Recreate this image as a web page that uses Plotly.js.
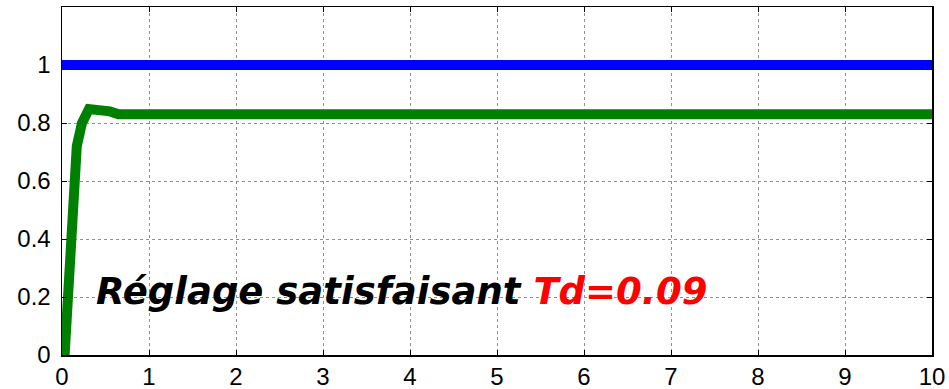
<!DOCTYPE html>
<html><head><meta charset="utf-8">
<script src="https://cdn.plot.ly/plotly-3.0.1.min.js"></script>
<style>html,body{margin:0;padding:0;background:#fff}#g{width:949px;height:389px}</style>
</head><body><div id="g"></div>
<script>
const tRef = [0, 10];
const yRef = [1, 1];
const tOut = [0, 0.03, 0.17, 0.23, 0.31, 0.40, 0.48, 0.55, 0.65, 1.0, 10];
const yOut = [0, 0.0, 0.72, 0.80, 0.848, 0.848, 0.840, 0.840, 0.830, 0.830, 0.830];
const xTicks = [0,1,2,3,4,5,6,7,8,9,10];
const yTicks = [0,0.2,0.4,0.6,0.8,1];
const yTickText = ['0','0.2','0.4','0.6','0.8','1'];
const labelBlack = 'Réglage satisfaisant';
const labelRed = 'Td=0.09';

const axisCommon = {
  showline: true, linecolor: '#000', linewidth: 1.5, mirror: 'ticks',
  ticks: 'inside', ticklen: 5, tickcolor: '#000', tickwidth: 1,
  showgrid: true, gridcolor: '#909090', gridwidth: 1, griddash: 'dot',
  zeroline: false,
  tickfont: {family: 'Liberation Sans', size: 24, color: '#000'}
};

const data = [
  {x: tRef, y: yRef, mode: 'lines', line: {color: '#0000ff', width: 10}, showlegend: false, hoverinfo: 'skip'},
  {x: tOut, y: yOut, mode: 'lines', line: {color: '#008000', width: 10, shape: 'linear'}, showlegend: false, hoverinfo: 'skip'}
];

const layout = {
  width: 949, height: 389,
  margin: {l: 62, r: 17, t: 7, b: 34},
  paper_bgcolor: '#fff', plot_bgcolor: '#fff',
  xaxis: Object.assign({}, axisCommon, {range: [0, 10], tickvals: xTicks, ticktext: xTicks.map(String), ticklabelstandoff: 0}),
  yaxis: Object.assign({}, axisCommon, {range: [0, 1.2], tickvals: yTicks, ticktext: yTickText, ticklabelstandoff: 5}),
  annotations: [{
    x: 0.37, y: 0.22, xref: 'x', yref: 'y', xanchor: 'left', yanchor: 'middle', showarrow: false,
    text: '<b><i>' + labelBlack + ' <span style="color:#ff0000">' + labelRed + '</span></i></b>',
    font: {family: 'DejaVu Sans', size: 37, color: '#000'}
  }]
};

Plotly.newPlot('g', data, layout, {staticPlot: true, displayModeBar: false});
</script></body></html>
